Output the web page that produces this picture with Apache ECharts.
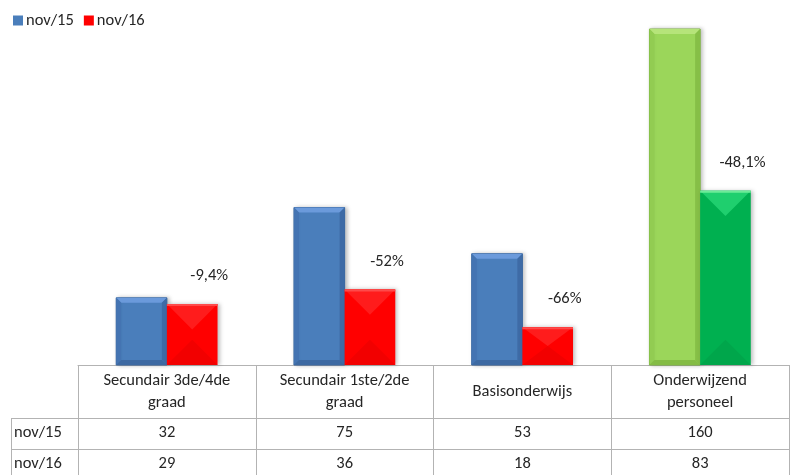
<!DOCTYPE html>
<html><head><meta charset="utf-8">
<script src="https://cdn.jsdelivr.net/npm/echarts@6/dist/echarts.min.js"></script>
<style>html,body{margin:0;padding:0;background:#fff}#c{width:791px;height:475px}</style>
</head><body><div id="c"></div>
<script>
const categories = ['Secundair 3de/4de\ngraad', 'Secundair 1ste/2de\ngraad', 'Basisonderwijs', 'Onderwijzend\npersoneel'];
const seriesNames = ['nov/15', 'nov/16'];
const nov15 = [32, 75, 53, 160];
const nov16 = [29, 36, 18, 83];
const changeLabels = ['-9,4%', '-52%', '-66%', '-48,1%'];

const FONT = 'Carlito, Calibri, Lato, sans-serif';
const FS = 16.5;
const chart = echarts.init(document.getElementById('c'));

const palettes = {
  blue:   {base:'#4a7ebb', top:'#6b9adb', left:'#4474b2', right:'#3e6ba6', bottom:'#3d69a2', edge:'#3a679f'},
  lgreen: {base:'#9bd65a', top:'#b6e47a', left:'#92cc52', right:'#86bf47', bottom:'#84bc45', edge:'#7cb23f'},
  red:    {base:'#ff0000', top:'#ff1c1c', bottom:'#f20000', strip:'#ff4a4a'},
  dgreen: {base:'#00b050', top:'#1fcf6e', bottom:'#00a64b', strip:'#6deb98'}
};

function renderItem(seriesIdx) {
  return function (params, api) {
    const idx = api.value(0), val = api.value(1);
    const base = api.coord([idx, 0]);
    const topP = api.coord([idx, val]);
    const band = api.size([1, 0])[0];
    const w = band * 0.285;
    const x0 = base[0] + (seriesIdx === 0 ? -w : 0);
    const x1 = x0 + w;
    const y0 = topP[1], y1 = base[1];
    const h = y1 - y0;
    const cx = (x0 + x1) / 2;
    const children = [];
    if (seriesIdx === 0) {
      const p = idx === 3 ? palettes.lgreen : palettes.blue;
      const b = 5;
      children.push({type:'rect', shape:{x:x0, y:y0, width:w, height:h},
        style:{fill:p.base, stroke:p.edge, lineWidth:1, shadowBlur:4, shadowOffsetX:2, shadowOffsetY:0, shadowColor:'rgba(0,0,0,0.25)'}});
      children.push({type:'polygon', shape:{points:[[x0,y0],[x1,y0],[x1-b,y0+b],[x0+b,y0+b]]}, style:{fill:p.top}});
      children.push({type:'polygon', shape:{points:[[x0,y0],[x0+b,y0+b],[x0+b,y1-b],[x0,y1]]}, style:{fill:p.left}});
      children.push({type:'polygon', shape:{points:[[x1,y0],[x1-b,y0+b],[x1-b,y1-b],[x1,y1]]}, style:{fill:p.right}});
      children.push({type:'polygon', shape:{points:[[x0,y1],[x0+b,y1-b],[x1-b,y1-b],[x1,y1]]}, style:{fill:p.bottom}});
    } else {
      const p = idx === 3 ? palettes.dgreen : palettes.red;
      const b = Math.min(w / 2, h / 2);
      children.push({type:'rect', shape:{x:x0, y:y0, width:w, height:h},
        style:{fill:p.base, shadowBlur:4, shadowOffsetX:2, shadowColor:'rgba(0,0,0,0.25)'}});
      children.push({type:'polygon', shape:{points:[[x0,y0],[x1,y0],[cx,y0+b]]}, style:{fill:p.top}});
      children.push({type:'polygon', shape:{points:[[x0,y1],[x1,y1],[cx,y1-b]]}, style:{fill:p.bottom}});
      children.push({type:'rect', shape:{x:x0, y:y0, width:w, height:2}, style:{fill:p.strip}});
      children.push({type:'text', style:{text:changeLabels[idx], x:cx + 17, y:y0 - 28,
        align:'center', verticalAlign:'middle', fill:'#262626', font:FS + 'px ' + FONT}});
    }
    return {type:'group', children};
  };
}

function makeData(arr) { return arr.map((v, i) => [i, v]); }

const option = {
  animation: false,
  textStyle: {fontFamily: FONT},
  legend: {
    left: 13, top: 12, padding: 0, itemWidth: 10, itemHeight: 10, itemGap: 10,
    icon: 'rect',
    textStyle: {fontSize: FS, color: '#262626', fontFamily: FONT, padding: [0,0,0,-2]},
    data: seriesNames
  },
  grid: {left: 78, right: 2, top: 29, bottom: 110},
  xAxis: {
    type: 'category', data: categories,
    axisLine: {lineStyle: {color: '#b3b3b3', width: 1}},
    axisTick: {show: true, length: 110, lineStyle: {color: '#b3b3b3'}},
    axisLabel: {fontSize: FS, color: '#262626', lineHeight: 22, margin: 26.5, verticalAlign: 'middle', interval: 0, fontFamily: FONT}
  },
  yAxis: {type: 'value', min: 0, max: 160, show: false, splitLine: {show: false}},
  series: [
    {name: seriesNames[0], type: 'custom', itemStyle: {color: '#4a7ebb'}, renderItem: renderItem(0), data: makeData(nov15), encode: {x: 0, y: 1}},
    {name: seriesNames[1], type: 'custom', itemStyle: {color: '#ff0000'}, renderItem: renderItem(1), data: makeData(nov16), encode: {x: 0, y: 1}}
  ]
};
chart.setOption(option);

// Data table rows below the axis
const baseY = chart.convertToPixel({yAxisIndex: 0}, 0);
const rightX = 789;
const row1 = baseY + 53, row2 = row1 + 31, row3 = 475;
const lineStyle = {stroke: '#b3b3b3', lineWidth: 1};
const g = [];
g.push({type:'line', shape:{x1:11, y1:row1 + 0.5, x2:rightX, y2:row1 + 0.5}, style:lineStyle});
g.push({type:'line', shape:{x1:11, y1:row2 + 0.5, x2:rightX, y2:row2 + 0.5}, style:lineStyle});
g.push({type:'line', shape:{x1:11.5, y1:row1, x2:11.5, y2:row3}, style:lineStyle});
g.push({type:'line', shape:{x1:rightX + 0.5, y1:baseY, x2:rightX + 0.5, y2:row3}, style:lineStyle});
const rows = [[seriesNames[0], nov15, row1], [seriesNames[1], nov16, row2]];
rows.forEach(([name, vals, ry]) => {
  const cy = ry + 15;
  g.push({type:'text', style:{text:name, x:14, y:cy, align:'left', verticalAlign:'middle', fill:'#262626', font:FS + 'px ' + FONT}});
  vals.forEach((v, i) => {
    const x = chart.convertToPixel({xAxisIndex: 0}, i);
    g.push({type:'text', style:{text:String(v), x:x, y:cy, align:'center', verticalAlign:'middle', fill:'#262626', font:FS + 'px ' + FONT}});
  });
});
chart.setOption({graphic: {elements: g}});
</script>
</body></html>
